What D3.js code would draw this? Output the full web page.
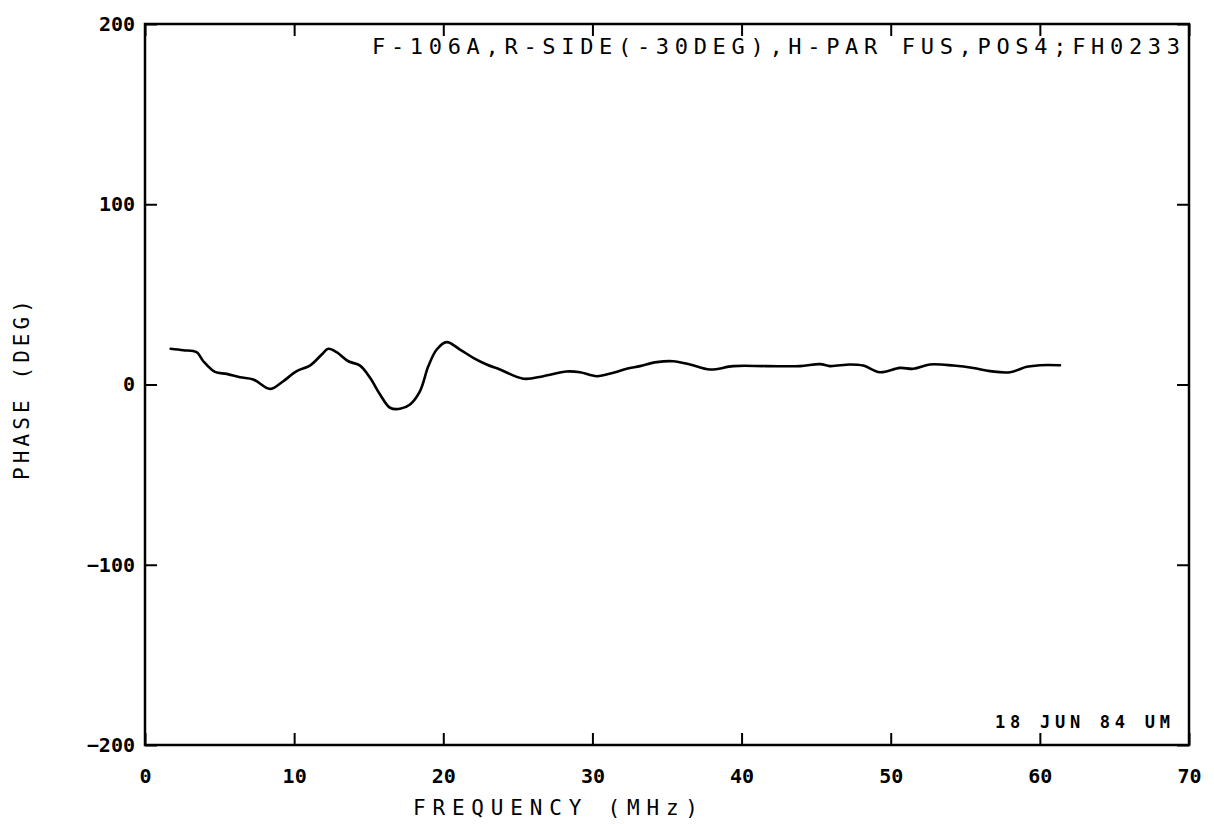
<!DOCTYPE html>
<html>
<head>
<meta charset="utf-8">
<script src="https://cdn.jsdelivr.net/npm/d3@7"></script>
<style>
  html, body { margin: 0; padding: 0; background: #fff; }
  svg { display: block; }
  text { font-family: "DejaVu Sans Mono", "Liberation Mono", monospace; fill: #000; }
</style>
</head>
<body>
<svg id="chart" width="1214" height="824"></svg>
<script>
// ---- data ----
const freqMHz = [1.72, 2.57, 3.46, 3.91, 4.69, 5.48, 6.37, 7.26, 8.16, 8.49, 9.27, 10.17, 11.06, 11.85, 12.29,
  12.85, 13.63, 14.42, 15.09, 15.76, 16.43, 17.1, 17.77, 18.44, 19.0, 19.56, 20.23, 21.12, 22.01, 22.91, 23.8,
  25.37, 26.71, 28.27, 29.17, 30.29, 31.4, 32.3, 33.19, 34.31, 35.42, 36.54, 37.88, 39.45, 41.69, 43.92,
  45.26, 45.93, 47.27, 48.16, 49.28, 50.62, 51.52, 52.63, 54.2, 55.54, 56.66, 58.0, 59.12, 60.01, 61.35];
const phaseDeg = [19.8, 19.0, 17.9, 12.9, 7.0, 5.9, 4.0, 2.8, -1.9, -2.4, 1.8, 7.4, 10.5, 16.6, 19.8,
  17.9, 12.9, 10.5, 3.7, -5.5, -12.9, -13.5, -11.1, -3.7, 10.2, 19.4, 23.5, 19.4, 14.8, 11.1, 8.3,
  3.2, 4.6, 7.2, 6.8, 4.6, 6.5, 8.7, 10.2, 12.4, 12.9, 11.1, 8.3, 10.2, 10.2, 10.2,
  11.3, 10.2, 11.1, 10.5, 6.8, 9.2, 8.7, 11.1, 10.5, 9.2, 7.4, 6.8, 9.8, 10.7, 10.7];
const xTicks = [0, 10, 20, 30, 40, 50, 60, 70];
const yTicks = [-200, -100, 0, 100, 200];
const xDomain = [0, 70];
const yDomain = [-200, 200];
const titleText = "F-106A,R-SIDE(-30DEG),H-PAR FUS,POS4;FH0233";
const dateText = "18 JUN 84 UM";
const xLabel = "FREQUENCY (MHz)";
const yLabel = "PHASE (DEG)";

// ---- layout ----
const L = 145, R = 1189, T = 24, B = 745;
const svg = d3.select("#chart");
const x = d3.scaleLinear().domain(xDomain).range([L, R]);
const y = d3.scaleLinear().domain(yDomain).range([B, T]);
const tickLen = 12;

// frame
svg.append("rect").attr("x", L).attr("y", T).attr("width", R - L).attr("height", B - T)
  .attr("fill", "none").attr("stroke", "#000").attr("stroke-width", 2.5);

// axes with inward ticks
const xAxisB = d3.axisBottom(x).tickValues(xTicks).tickSize(-tickLen).tickFormat(d3.format("d"));
const gxb = svg.append("g").attr("transform", `translate(0,${B})`).call(xAxisB);
const xAxisT = d3.axisTop(x).tickValues(xTicks).tickSize(-tickLen).tickFormat("");
const gxt = svg.append("g").attr("transform", `translate(0,${T})`).call(xAxisT);
const yAxisL = d3.axisLeft(y).tickValues(yTicks).tickSize(-tickLen).tickFormat(d3.format("d"));
const gyl = svg.append("g").attr("transform", `translate(${L},0)`).call(yAxisL);
const yAxisR = d3.axisRight(y).tickValues(yTicks).tickSize(-tickLen).tickFormat("");
const gyr = svg.append("g").attr("transform", `translate(${R},0)`).call(yAxisR);

[gxb, gxt, gyl, gyr].forEach(g => {
  g.select(".domain").remove();
  g.selectAll(".tick line").attr("stroke", "#000").attr("stroke-width", 2);
  g.selectAll("text").attr("font-size", 20).attr("font-weight", "bold")
    .style("font-family", '"DejaVu Sans Mono", monospace').attr("fill", "#000");
});
gxb.selectAll(".tick text").attr("dy", "0.71em").attr("y", 24);
gyl.selectAll(".tick text").attr("x", -10);

// curve
const line = d3.line().x((d, i) => x(freqMHz[i])).y((d, i) => y(phaseDeg[i])).curve(d3.curveCatmullRom.alpha(0.5));
svg.append("path").datum(phaseDeg).attr("d", line)
  .attr("fill", "none").attr("stroke", "#000").attr("stroke-width", 2.6)
  .attr("stroke-linejoin", "round").attr("stroke-linecap", "round");

// title text
svg.append("text").attr("x", 372).attr("y", 54).attr("font-size", 22)
  .attr("textLength", 808).attr("lengthAdjust", "spacing").text(titleText);

// date stamp
svg.append("text").attr("x", 995).attr("y", 728).attr("font-size", 17).attr("font-weight", "bold")
  .attr("textLength", 175).attr("lengthAdjust", "spacing").text(dateText);

// axis titles
svg.append("text").attr("x", 413).attr("y", 815).attr("font-size", 21)
  .attr("textLength", 285).attr("lengthAdjust", "spacing").text(xLabel);
svg.append("text").attr("transform", "translate(29,480) rotate(-90)").attr("font-size", 21)
  .attr("textLength", 180).attr("lengthAdjust", "spacing").text(yLabel);
</script>
</body>
</html>
